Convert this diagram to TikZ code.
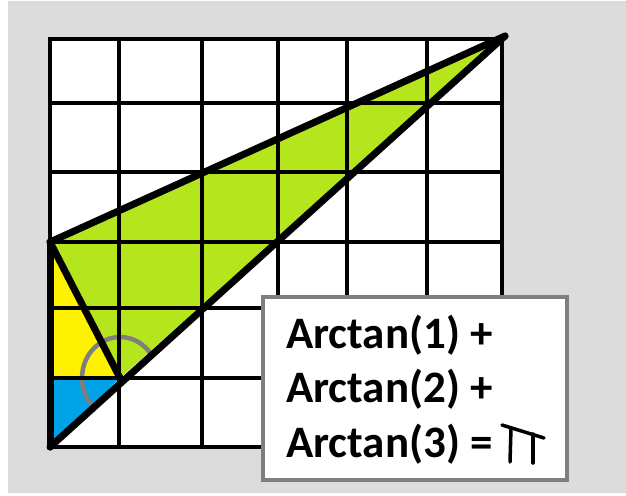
\documentclass[tikz,border=0pt]{standalone}
\usepackage{fontspec}
\setmainfont{Carlito}
\definecolor{bggrey}{HTML}{DCDCDC}
\definecolor{lime}{HTML}{B5E61D}
\definecolor{sunyellow}{HTML}{FFF200}
\definecolor{skyblue}{HTML}{00A2E8}
\definecolor{boxgrey}{HTML}{7F7F7F}
\begin{document}
\begin{tikzpicture}[x=1pt,y=-1pt,
  gridline/.style={black,line width=4pt},
  thickline/.style={black,line width=7pt,line cap=round,line join=round},
  anglearc/.style={boxgrey,line width=4.5pt},
  eqbox/.style={draw=boxgrey,fill=white,line width=4pt},
  eqtext/.style={anchor=base west,inner sep=0pt,font=\fontsize{45}{50}\selectfont\bfseries},
  pistroke/.style={black,line width=3.5pt,line cap=round}]
\useasboundingbox (0,0) rectangle (626,495);
\fill[white] (0,0) rectangle (626,495);
\fill[bggrey] (8,1) rectangle (626,493);
% white grid background
\fill[white] (50,39) rectangle (502,447);
% key points
\coordinate (O) at (50,447);
\coordinate (B) at (50,378);
\coordinate (Q) at (120,378);
\coordinate (A) at (50,242);
\coordinate (P) at (505,36);
% coloured regions
\fill[skyblue] (O) -- (Q) -- (B) -- cycle;
\fill[sunyellow] (B) -- (Q) -- (A) -- cycle;
\fill[lime] (A) -- (Q) -- (P) -- cycle;
% angle arc (y axis points down, so visual angles are negated)
\draw[anglearc] (Q) ++(-33:38 and 41) arc[start angle=-33,end angle=-220,x radius=38,y radius=41];
% grid
\foreach \gx in {50,119,202,278,347,427,502} {\draw[gridline] (\gx,39) -- (\gx,447);}
\foreach \gy in {39,103,172,242,308,378,447} {\draw[gridline] (48,\gy) -- (504,\gy);}
% triangle edges
\draw[thickline] (O) -- (A);
\draw[thickline] (A) -- (P);
\draw[thickline] (O) -- (P);
\draw[thickline] (A) -- (Q);
% equation box
\node[eqbox,minimum width=304pt,minimum height=183pt,inner sep=0pt] (box) at (415,388) {};
\node[eqtext] (t1) at (286,348) {Arctan(1) +};
\node[eqtext] (t2) at (286,402) {Arctan(2) +};
\node[eqtext] (t3) at (286,457) {Arctan(3) =};
% hand-drawn pi
\draw[pistroke] (502,425) -- (544,438);
\draw[pistroke] (511,428) -- (510,462);
\draw[pistroke] (533,434) -- (533,463);
\end{tikzpicture}
\end{document}
